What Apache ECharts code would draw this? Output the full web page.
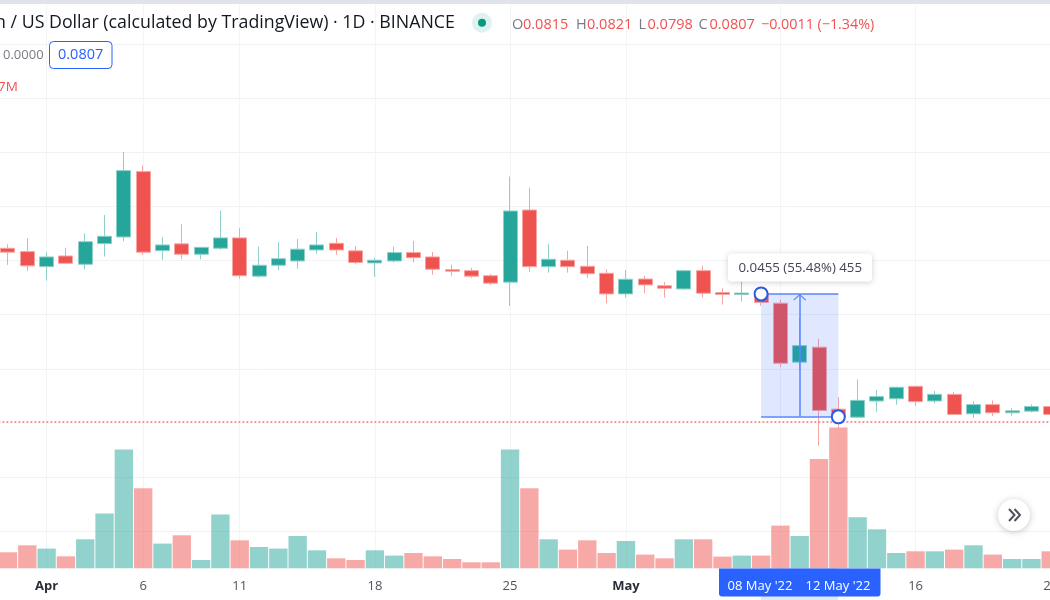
<!DOCTYPE html>
<html>
<head>
<meta charset="utf-8">
<style>
    html, body { margin: 0; padding: 0; background: #fff; }
    #main { width: 1050px; height: 600px; }
</style>
<script src="https://cdn.jsdelivr.net/npm/echarts@6/dist/echarts.min.js"></script>
</head>
<body>
<div id="main"></div>
<script>
const dates = ['30 Mar','31 Mar','1 Apr','2 Apr','3 Apr','4 Apr','5 Apr','6 Apr','7 Apr','8 Apr','9 Apr','10 Apr','11 Apr','12 Apr','13 Apr','14 Apr','15 Apr','16 Apr','17 Apr','18 Apr','19 Apr','20 Apr','21 Apr','22 Apr','23 Apr','24 Apr','25 Apr','26 Apr','27 Apr','28 Apr','29 Apr','30 Apr','1 May','2 May','3 May','4 May','5 May','6 May','7 May','8 May','9 May','10 May','11 May','12 May','13 May','14 May','15 May','16 May','17 May','18 May','19 May','20 May','21 May','22 May','23 May']

const opens  = [.1502,.1484,.1406,.1461,.1418,.1527,.1564,.1978,.1489,.1526,.1470,.1502,.1559,.1359,.1413,.1435,.1493,.1529,.1488,.1425,.1435,.1479,.1456,.1391,.1386,.1361,.1330,.1723,.1406,.1439,.1408,.1373,.1275,.1345,.1313,.1298,.1386,.1281,.1272,.1279,.1233,.0998,.1053,.0843,.0819,.0868,.0875,.0915,.0868,.0889,.0829,.0857,.0832,.0837,.0851]
const closes = [.1481,.1410,.1456,.1423,.1538,.1568,.1985,.1481,.1520,.1470,.1507,.1559,.1361,.1413,.1447,.1497,.1520,.1493,.1427,.1439,.1479,.1452,.1393,.1383,.1359,.1325,.1717,.1406,.1444,.1406,.1371,.1275,.1344,.1317,.1301,.1386,.1278,.1272,.1279,.1236,.0994,.1059,.0839,.0820,.0870,.0882,.0912,.0866,.0889,.0827,.0857,.0832,.0838,.0851,.0827]
const lows   = [.1415,.1385,.1337,.1418,.1393,.1458,.1540,.1467,.1440,.1444,.1444,.1493,.1347,.1352,.1388,.1396,.1472,.1467,.1418,.1355,.1427,.1427,.1366,.1361,.1350,.1317,.1221,.1380,.1376,.1376,.1350,.1233,.1258,.1278,.1258,.1293,.1258,.1227,.1240,.1221,.0980,.0970,.0739,.0698,.0819,.0835,.0856,.0853,.0860,.0827,.0817,.0822,.0823,.0833,.0820]
const highs  = [.1524,.1557,.1481,.1505,.1585,.1693,.2123,.2021,.1563,.1637,.1509,.1719,.1616,.1511,.1535,.1553,.1593,.1559,.1513,.1452,.1511,.1542,.1482,.1416,.1400,.1370,.1943,.1867,.1526,.1488,.1515,.1393,.1389,.1360,.1331,.1389,.1412,.1303,.1332,.1282,.1248,.1168,.1085,.0880,.0938,.0903,.0914,.0916,.0900,.0897,.0867,.0870,.0846,.0858,.0855]
const volumes = [1.6,2.3,1.97,1.2,2.9,5.47,11.87,8.0,2.47,3.3,.83,5.37,2.8,2.13,1.97,3.23,1.8,1.0,.83,1.8,1.27,1.53,1.2,.93,.6,.6,11.87,8.0,2.9,1.87,2.8,1.53,2.73,1.37,1.0,2.9,2.9,1.17,1.27,1.27,4.27,3.23,10.93,14.07,5.1,3.9,1.53,1.7,1.7,1.87,2.3,1.37,.93,.93,1.7]

const tickLabels = { '1 Apr': '{b|Apr}', '6 Apr': '6', '11 Apr': '11', '18 Apr': '18', '25 Apr': '25', '1 May': '{b|May}', '16 May': '16', '23 May': '23' }
const gridDates = ['1 Apr', '6 Apr', '11 Apr', '18 Apr', '25 Apr', '1 May', '9 May', '16 May']
// the row at 2 sits under the dotted price line and does not show in the picture
const gridRows = [0, 1, 3, 4, 5, 6, 7, 8, 9]

const lastClose = 0.0807
const measureStart = ['8 May', 0.1275]
const measureEnd = ['12 May', 0.0820]
const measureMid = '10 May'

const UP = '#26a69a', DOWN = '#ef5350', BLUE = '#2962ff'
const FONT = '"Open Sans", sans-serif'

const ohlcLabels = [
    [512, 'O', '0.0815'],
    [576, 'H', '0.0821'],
    [638.5, 'L', '0.0798'],
    [698.5, 'C', '0.0807']
]

function text(x, y, str, size, fill, extra) {
    return {
        type: 'text', z: 102,
        style: Object.assign({ x: x, y: y, text: str, fontSize: size, fill: fill, fontFamily: FONT, textVerticalAlign: 'middle' }, extra || {})
    }
}

let graphics = [
    { type: 'rect', z: 100, shape: { x: 0, y: 0, width: 1050, height: 4 }, style: { fill: '#e0e3eb' } },
    text(-5, 22.5, 'n / US Dollar (calculated by TradingView) · 1D · BINANCE', 17.8, '#131722'),
    { type: 'circle', z: 100, shape: { cx: 482, cy: 22.7, r: 10 }, style: { fill: 'rgba(8,153,129,0.13)' } },
    { type: 'circle', z: 101, shape: { cx: 482, cy: 22.7, r: 4 }, style: { fill: '#089981' } },
    text(761, 24.5, '−0.0011 (−1.34%)', 14.3, DOWN),
    text(3, 55, '0.0000', 13, '#787b86'),
    { type: 'rect', z: 100, shape: { x: 49.5, y: 41.5, width: 62.5, height: 27, r: 4 }, style: { fill: '#fff', stroke: BLUE, lineWidth: 1 } },
    text(58, 55, '0.0807', 14.5, BLUE),
    text(-2, 87, '7M', 13.5, DOWN),
    { type: 'rect', z: 100, shape: { x: 728, y: 253.5, width: 144, height: 28, r: 4 }, style: { fill: '#fff', shadowBlur: 6, shadowColor: 'rgba(0,0,0,0.18)', shadowOffsetY: 1 } },
    text(738.5, 268, '0.0455 (55.48%) 455', 13.25, '#434651'),
    { type: 'rect', z: 100, shape: { x: 761, y: 568, width: 77, height: 32 }, style: { fill: 'rgba(41,98,255,0.15)' } },
    { type: 'rect', z: 101, shape: { x: 719, y: 568.5, width: 161.5, height: 28, r: [0, 0, 3, 3] }, style: { fill: BLUE } },
    text(760, 586, "08 May '22", 13, '#fff', { textAlign: 'center' }),
    text(838, 586, "12 May '22", 13, '#fff', { textAlign: 'center' }),
    { type: 'circle', z: 100, shape: { cx: 1014, cy: 515, r: 16 }, style: { fill: '#fff', shadowBlur: 7, shadowColor: 'rgba(0,0,0,0.22)', shadowOffsetY: 1 } },
    { type: 'polyline', z: 101, shape: { points: [[1009, 509], [1014.5, 515], [1009, 521]] }, style: { stroke: '#50535e', lineWidth: 2, fill: null } },
    { type: 'polyline', z: 101, shape: { points: [[1014.5, 509], [1020, 515], [1014.5, 521]] }, style: { stroke: '#50535e', lineWidth: 2, fill: null } }
]

ohlcLabels.forEach(e => {
    graphics.push(text(e[0], 24.5, e[1], 14.5, '#787b86'))
    graphics.push(text(e[0] + (e[1] == 'L' ? 9 : 11), 24.5, e[2], 14.5, DOWN))
})

let chart = echarts.init(document.getElementById('main'), null, { renderer: 'canvas' })

let option = {
    animation: false,
    backgroundColor: '#fff',
    grid: [
        { left: -1.66, top: 4, width: 1062.05, height: 564.3, outerBoundsMode: 'none' },
        { left: 0, top: 44, width: 1050, height: 487.3, outerBoundsMode: 'none' }
    ],
    xAxis: [{
        type: 'category',
        gridIndex: 0,
        data: dates,
        axisLine: { show: false },
        axisTick: { show: false },
        splitLine: {
            show: true,
            alignWithLabel: true,
            interval: (i, v) => gridDates.includes(v),
            lineStyle: { color: '#f3f4f7', width: 1 }
        },
        axisLabel: {
            margin: 11,
            fontSize: 13,
            fontFamily: FONT,
            color: '#50535e',
            interval: (i, v) => v in tickLabels,
            formatter: v => tickLabels[v] || '',
            rich: { b: { fontSize: 13, fontWeight: 'bold', fontFamily: FONT, color: '#2a2e39' } }
        }
    }, {
        type: 'value',
        gridIndex: 1,
        min: 0,
        max: 1,
        show: false
    }],
    yAxis: [{
        type: 'log',
        gridIndex: 0,
        min: 0.04761,
        max: 0.3610,
        show: false
    }, {
        type: 'value',
        gridIndex: 0,
        min: 0,
        max: 56.43,
        show: false
    }, {
        type: 'value',
        gridIndex: 1,
        min: 0,
        max: 9,
        interval: 1,
        axisLine: { show: false },
        axisTick: { show: false, customValues: gridRows },
        axisLabel: { show: false },
        splitLine: { show: true, lineStyle: { color: '#f1f2f5', width: 1 } }
    }],
    series: [{
        name: 'Volume',
        type: 'bar',
        xAxisIndex: 0,
        yAxisIndex: 1,
        barCategoryGap: '5%',
        z: 1,
        data: volumes.map((v, i) => ({
            value: v,
            itemStyle: { color: closes[i] >= opens[i] ? 'rgba(38,166,154,0.5)' : 'rgba(239,83,80,0.5)' }
        }))
    }, {
        name: 'Price',
        type: 'candlestick',
        xAxisIndex: 0,
        yAxisIndex: 0,
        barWidth: 14.5,
        z: 2,
        data: opens.map((o, i) => [o, closes[i], lows[i], highs[i]]),
        itemStyle: {
            color: UP,
            color0: DOWN,
            borderColor: '#8fd0ca',
            borderColor0: '#f7a5a3',
            borderWidth: 1
        }
    }, {
        name: 'Measure',
        type: 'scatter',
        xAxisIndex: 0,
        yAxisIndex: 0,
        symbolSize: 13,
        z: 10,
        itemStyle: { color: '#fff', borderColor: '#2d5be3', borderWidth: 2, opacity: 1 },
        data: [measureStart, measureEnd],
        markArea: {
            silent: true,
            z: 5,
            itemStyle: { color: 'rgba(41,98,255,0.15)' },
            data: [[{ coord: measureStart }, { coord: measureEnd }]]
        },
        markLine: {
            silent: true,
            z: 6,
            precision: 4,
            symbol: 'none',
            label: { show: false },
            lineStyle: { color: '#5a84ff', type: 'solid', width: 1.5 },
            data: [
                { yAxis: lastClose, lineStyle: { color: '#f07a78', type: [2, 2], width: 1.6 } },
                [{ coord: [measureStart[0], measureStart[1]] }, { coord: [measureEnd[0], measureStart[1]] }],
                [{ coord: [measureStart[0], measureEnd[1]] }, { coord: [measureEnd[0], measureEnd[1]] }],
                [
                    { coord: [measureMid, measureEnd[1]], symbol: 'none' },
                    { coord: [measureMid, measureStart[1]], symbol: 'path://M0 6L6 0L12 6L11.2 6.8L6 1.6L.8 6.8ZM6 -6.8L6 -6.8', symbolSize: 13, itemStyle: { color: '#5a84ff' } }
                ]
            ]
        }
    }],
    graphic: graphics
}

chart.setOption(option)
</script>
</body>
</html>
